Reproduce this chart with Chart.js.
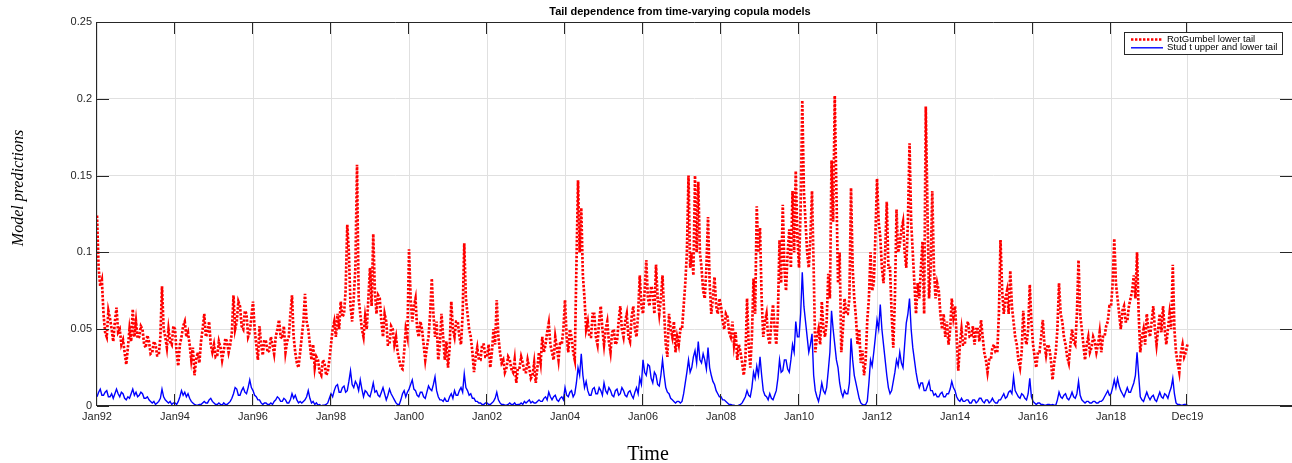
<!DOCTYPE html>
<html>
<head>
<meta charset="utf-8">
<title>Tail dependence from time-varying copula models</title>
<script src="https://cdn.jsdelivr.net/npm/chart.js@4.4.1/dist/chart.umd.min.js"></script>
<style>
  html, body { margin: 0; padding: 0; background: #fff; }
  #wrap { width: 1292px; height: 463px; }
</style>
</head>
<body>
<div id="wrap"><canvas id="chart" width="1292" height="463"></canvas></div>
<script>
// ═══════════════════════════════════════════════════════
// DATA  (half-monthly estimates, Jan 1992 .. Dec 2019)
// ═══════════════════════════════════════════════════════
const START_YEAR = 1992;
const PER_YEAR   = 24;
const X_MAX      = 2022.64;

const X_TICKS       = [1992, 1994, 1996, 1998, 2000, 2002, 2004, 2006, 2008, 2010, 2012, 2014, 2016, 2018, 2019.96];
const X_TICK_LABELS = ['Jan92','Jan94','Jan96','Jan98','Jan00','Jan02','Jan04','Jan06','Jan08','Jan10','Jan12','Jan14','Jan16','Jan18','Dec19'];
const Y_TICKS       = [0, 0.05, 0.1, 0.15, 0.2, 0.25];
const Y_TICK_LABELS = ['0', '0.05', '0.1', '0.15', '0.2', '0.25'];

// RotGumbel lower tail dependence
const ROT_GUMBEL = [
  0.124,0.09,0.078,0.082,0.06,0.048,0.045,0.062,0.057,0.05,0.042,0.055,0.064,0.048,0.05,0.04,0.043,0.035,0.027,0.038,0.05,0.042,0.063,0.045,       // 1992
  0.055,0.044,0.045,0.052,0.05,0.04,0.038,0.046,0.042,0.034,0.035,0.042,0.04,0.033,0.033,0.045,0.078,0.05,0.045,0.038,0.05,0.042,0.04,0.052,       // 1993
  0.05,0.035,0.026,0.04,0.045,0.052,0.055,0.045,0.048,0.04,0.03,0.038,0.02,0.03,0.035,0.028,0.042,0.05,0.06,0.045,0.048,0.055,0.04,0.035,          // 1994
  0.04,0.032,0.033,0.042,0.038,0.03,0.036,0.044,0.042,0.035,0.04,0.048,0.072,0.05,0.055,0.068,0.065,0.052,0.05,0.062,0.06,0.045,0.048,0.058,       // 1995
  0.068,0.05,0.04,0.03,0.052,0.04,0.033,0.043,0.042,0.035,0.036,0.045,0.04,0.034,0.045,0.05,0.056,0.045,0.044,0.052,0.035,0.042,0.045,0.06,       // 1996
  0.072,0.045,0.035,0.028,0.025,0.035,0.045,0.055,0.073,0.055,0.05,0.04,0.03,0.04,0.025,0.032,0.03,0.022,0.02,0.03,0.028,0.02,0.022,0.03,         // 1997
  0.04,0.05,0.055,0.045,0.06,0.05,0.068,0.058,0.06,0.075,0.118,0.1,0.065,0.055,0.07,0.09,0.157,0.07,0.06,0.05,0.045,0.058,0.05,0.07,              // 1998
  0.09,0.065,0.112,0.075,0.06,0.072,0.07,0.055,0.045,0.06,0.055,0.04,0.04,0.052,0.05,0.04,0.045,0.035,0.03,0.025,0.024,0.035,0.05,0.045,          // 1999
  0.102,0.07,0.055,0.065,0.07,0.05,0.045,0.055,0.05,0.04,0.03,0.038,0.045,0.06,0.083,0.06,0.045,0.055,0.03,0.04,0.06,0.045,0.03,0.042,            // 2000
  0.025,0.038,0.068,0.05,0.045,0.055,0.055,0.045,0.04,0.06,0.106,0.07,0.06,0.05,0.045,0.035,0.022,0.032,0.038,0.03,0.03,0.04,0.04,0.032,          // 2001
  0.032,0.04,0.025,0.035,0.05,0.04,0.069,0.045,0.035,0.028,0.03,0.022,0.025,0.032,0.03,0.024,0.022,0.03,0.015,0.025,0.025,0.032,0.028,0.022,      // 2002
  0.022,0.03,0.025,0.018,0.02,0.028,0.015,0.025,0.035,0.028,0.045,0.035,0.04,0.048,0.054,0.04,0.035,0.03,0.045,0.038,0.03,0.042,0.04,0.05,        // 2003
  0.069,0.045,0.035,0.05,0.045,0.035,0.03,0.09,0.147,0.1,0.129,0.085,0.07,0.05,0.055,0.045,0.045,0.06,0.06,0.045,0.04,0.055,0.065,0.05,           // 2004
  0.04,0.05,0.055,0.042,0.035,0.048,0.05,0.04,0.042,0.055,0.065,0.05,0.045,0.055,0.06,0.045,0.042,0.058,0.065,0.05,0.045,0.06,0.085,0.065,        // 2005
  0.06,0.075,0.095,0.07,0.065,0.078,0.075,0.06,0.092,0.07,0.06,0.07,0.085,0.06,0.04,0.032,0.06,0.05,0.045,0.055,0.035,0.045,0.04,0.05,            // 2006
  0.05,0.065,0.08,0.1,0.15,0.09,0.1,0.085,0.15,0.1,0.146,0.1,0.09,0.075,0.07,0.09,0.123,0.08,0.06,0.07,0.084,0.065,0.06,0.07,                     // 2007
  0.065,0.055,0.05,0.06,0.058,0.048,0.045,0.055,0.04,0.048,0.03,0.04,0.035,0.028,0.02,0.03,0.07,0.04,0.025,0.045,0.083,0.06,0.13,0.1,             // 2008
  0.116,0.07,0.045,0.055,0.06,0.045,0.04,0.055,0.066,0.05,0.04,0.06,0.108,0.08,0.131,0.09,0.075,0.1,0.115,0.09,0.14,0.1,0.153,0.11,               // 2009
  0.09,0.13,0.199,0.14,0.12,0.1,0.09,0.11,0.14,0.09,0.035,0.045,0.05,0.04,0.068,0.05,0.045,0.055,0.086,0.07,0.16,0.12,0.202,0.14,                 // 2010
  0.08,0.1,0.035,0.05,0.07,0.06,0.06,0.07,0.142,0.09,0.07,0.058,0.04,0.05,0.028,0.036,0.02,0.03,0.056,0.07,0.1,0.075,0.08,0.11,                   // 2011
  0.148,0.12,0.11,0.09,0.08,0.1,0.133,0.09,0.09,0.06,0.038,0.07,0.128,0.1,0.105,0.115,0.12,0.1,0.09,0.12,0.171,0.12,0.1,0.08,                     // 2012
  0.06,0.08,0.07,0.09,0.107,0.06,0.195,0.13,0.07,0.09,0.14,0.09,0.07,0.08,0.075,0.06,0.05,0.06,0.045,0.055,0.04,0.05,0.07,0.058,                  // 2013
  0.065,0.045,0.023,0.04,0.05,0.04,0.04,0.052,0.055,0.045,0.045,0.052,0.04,0.05,0.05,0.042,0.056,0.045,0.035,0.03,0.022,0.03,0.03,0.038,          // 2014
  0.04,0.035,0.035,0.06,0.108,0.075,0.06,0.07,0.075,0.06,0.088,0.065,0.055,0.045,0.04,0.03,0.025,0.035,0.062,0.045,0.04,0.05,0.079,0.055,         // 2015
  0.04,0.032,0.025,0.035,0.035,0.045,0.056,0.04,0.033,0.04,0.038,0.03,0.017,0.028,0.035,0.05,0.08,0.06,0.055,0.045,0.04,0.032,0.028,0.04,         // 2016
  0.05,0.042,0.04,0.06,0.095,0.06,0.05,0.04,0.03,0.04,0.045,0.035,0.038,0.045,0.042,0.035,0.04,0.048,0.035,0.045,0.045,0.052,0.055,0.065,         // 2017
  0.065,0.08,0.109,0.08,0.07,0.06,0.05,0.062,0.065,0.055,0.055,0.065,0.07,0.075,0.085,0.07,0.1,0.06,0.035,0.045,0.05,0.04,0.06,0.05,              // 2018
  0.045,0.055,0.065,0.05,0.04,0.05,0.06,0.048,0.065,0.05,0.04,0.05,0.06,0.05,0.092,0.05,0.035,0.028,0.022,0.035,0.04,0.032,0.035,0.04,            // 2019
];

// Student t upper and lower tail dependence
const STUD_T = [
  0.006,0.009,0.011,0.007,0.007,0.009,0.01,0.006,0.006,0.008,0.005,0.008,0.011,0.008,0.006,0.009,0.008,0.005,0.004,0.006,0.005,0.008,0.011,0.007,               // 1992
  0.009,0.006,0.007,0.009,0.008,0.005,0.005,0.006,0.004,0.003,0.002,0.003,0.001,0.002,0.003,0.005,0.011,0.006,0.004,0.003,0.002,0.003,0.001,0.002,               // 1993
  0.002,0.001,0.003,0.006,0.01,0.007,0.009,0.006,0.008,0.005,0.003,0.002,0.001,0.0005,0.0005,0.001,0.001,0.002,0.003,0.002,0.002,0.004,0.005,0.003,             // 1994
  0.002,0.001,0.001,0.002,0.001,0.0005,0.002,0.001,0.001,0.002,0.003,0.005,0.008,0.012,0.011,0.007,0.007,0.01,0.012,0.009,0.008,0.012,0.017,0.012,              // 1995
  0.01,0.007,0.006,0.004,0.004,0.002,0.001,0.002,0.002,0.001,0.001,0.002,0.001,0.003,0.004,0.006,0.005,0.003,0.003,0.005,0.004,0.002,0.002,0.004,               // 1996
  0.008,0.005,0.007,0.004,0.002,0.003,0.002,0.003,0.004,0.006,0.01,0.005,0.002,0.003,0.001,0.002,0.0005,0.001,0,0.0005,0.0005,0.001,0.002,0.005,                // 1997
  0.008,0.006,0.01,0.013,0.014,0.009,0.009,0.012,0.013,0.009,0.01,0.016,0.023,0.014,0.012,0.016,0.014,0.01,0.017,0.011,0.006,0.01,0.009,0.007,                  // 1998
  0.006,0.01,0.015,0.009,0.01,0.007,0.006,0.009,0.012,0.008,0.004,0.007,0.011,0.008,0.006,0.004,0.002,0.001,0.001,0.004,0.008,0.01,0.006,0.009,                 // 1999
  0.011,0.014,0.017,0.011,0.01,0.007,0.006,0.009,0.009,0.006,0.005,0.009,0.013,0.011,0.01,0.014,0.019,0.01,0.006,0.004,0.004,0.003,0.005,0.003,                 // 2000
  0.003,0.006,0.008,0.005,0.01,0.007,0.007,0.01,0.012,0.009,0.021,0.012,0.01,0.007,0.008,0.005,0.005,0.003,0.003,0.002,0.002,0.001,0.001,0.002,                 // 2001
  0.002,0.001,0.001,0.002,0.003,0.005,0.009,0.004,0.002,0.001,0.001,0.0005,0.0005,0.001,0.002,0.001,0.001,0.002,0.0005,0.001,0.001,0.002,0.001,0.003,           // 2002
  0.002,0.003,0.004,0.002,0.003,0.002,0.002,0.003,0.004,0.003,0.003,0.005,0.006,0.004,0.009,0.006,0.004,0.006,0.007,0.004,0.003,0.005,0.006,0.004,               // 2003
  0.012,0.007,0.006,0.009,0.01,0.006,0.008,0.015,0.025,0.02,0.034,0.02,0.012,0.016,0.01,0.007,0.007,0.011,0.012,0.008,0.008,0.012,0.01,0.007,                   // 2004
  0.015,0.01,0.008,0.012,0.01,0.007,0.006,0.01,0.011,0.007,0.008,0.012,0.01,0.007,0.006,0.009,0.01,0.007,0.005,0.009,0.012,0.008,0.018,0.014,                   // 2005
  0.03,0.022,0.02,0.027,0.026,0.018,0.015,0.022,0.02,0.014,0.013,0.02,0.03,0.02,0.012,0.009,0.008,0.005,0.004,0.003,0.002,0.003,0.003,0.002,                    // 2006
  0.003,0.008,0.015,0.022,0.03,0.022,0.025,0.032,0.036,0.028,0.042,0.03,0.028,0.034,0.03,0.024,0.038,0.025,0.02,0.016,0.014,0.01,0.008,0.006,                   // 2007
  0.006,0.004,0.004,0.003,0.002,0.001,0.001,0.0005,0.0005,0,0,0.0005,0.001,0.002,0.004,0.006,0.01,0.007,0.006,0.012,0.022,0.018,0.026,0.02,                     // 2008
  0.032,0.02,0.01,0.007,0.006,0.004,0.008,0.005,0.004,0.007,0.01,0.018,0.03,0.022,0.023,0.03,0.03,0.024,0.022,0.03,0.04,0.035,0.055,0.045,                      // 2009
  0.045,0.06,0.087,0.065,0.055,0.045,0.035,0.04,0.047,0.02,0.01,0.006,0.003,0.008,0.015,0.01,0.008,0.012,0.023,0.035,0.062,0.05,0.04,0.03,                      // 2010
  0.025,0.015,0.009,0.006,0.01,0.008,0.008,0.015,0.044,0.03,0.02,0.015,0.01,0.005,0.002,0.001,0.0005,0.001,0.003,0.015,0.03,0.026,0.035,0.045,                  // 2011
  0.056,0.05,0.066,0.05,0.04,0.03,0.02,0.012,0.008,0.01,0.016,0.022,0.03,0.026,0.035,0.028,0.025,0.04,0.054,0.06,0.07,0.05,0.038,0.03,                          // 2012
  0.022,0.016,0.012,0.015,0.015,0.01,0.01,0.013,0.016,0.01,0.01,0.007,0.008,0.006,0.006,0.008,0.009,0.006,0.006,0.008,0.008,0.011,0.016,0.012,                  // 2013
  0.01,0.006,0.004,0.003,0.005,0.003,0.003,0.004,0.004,0.002,0.002,0.004,0.004,0.002,0.003,0.005,0.005,0.003,0.002,0.004,0.004,0.002,0.003,0.005,               // 2014
  0.003,0.002,0.002,0.004,0.004,0.006,0.008,0.005,0.006,0.009,0.01,0.008,0.019,0.01,0.008,0.006,0.005,0.008,0.007,0.005,0.004,0.008,0.018,0.006,                // 2015
  0.003,0.002,0.001,0.002,0.002,0.001,0.001,0.0005,0.0005,0.001,0.001,0.0005,0.001,0.0005,0.0005,0.004,0.009,0.006,0.005,0.007,0.008,0.005,0.004,0.006,        // 2016
  0.009,0.006,0.005,0.008,0.016,0.007,0.004,0.003,0.002,0.003,0.003,0.002,0.002,0.003,0.003,0.002,0.002,0.003,0.003,0.004,0.006,0.008,0.01,0.007,               // 2017
  0.008,0.012,0.017,0.012,0.018,0.013,0.01,0.008,0.006,0.009,0.012,0.009,0.009,0.012,0.015,0.02,0.035,0.02,0.006,0.004,0.003,0.006,0.009,0.006,                 // 2018
  0.004,0.006,0.007,0.004,0.003,0.006,0.009,0.006,0.005,0.008,0.007,0.005,0.009,0.012,0.018,0.008,0.002,0.001,0.001,0.0005,0.0005,0.001,0.001,0.0005,          // 2019
];

const SANS  = '"Liberation Sans", Arial, Helvetica, sans-serif';
const SERIF = '"Liberation Serif", "Times New Roman", Times, serif';
const AXIS_COLOR = '#262626';

// half-monthly series -> {x: decimal year, y}
const toPoints = arr => arr.map((v, i) => ({ x: START_YEAR + i / PER_YEAR, y: v }));

// ═══════════════════════════════════════════════════════
// PLUGINS
// ═══════════════════════════════════════════════════════
// box round the axes plus inward tick marks on all four sides
const axesBox = {
  id: 'axesBox',
  afterDatasetsDraw(chart) {
    const { ctx, chartArea: a, scales: { x, y } } = chart;
    const TL = 12;
    ctx.save();
    ctx.strokeStyle = AXIS_COLOR;
    ctx.lineWidth = 1;
    ctx.beginPath();
    ctx.rect(a.left - 0.5, a.top + 0.5, a.right - a.left + 1, a.bottom - a.top - 1);
    X_TICKS.forEach(v => {
      const px = Math.round(x.getPixelForValue(v)) - 0.5;
      ctx.moveTo(px, a.bottom); ctx.lineTo(px, a.bottom - TL);
      ctx.moveTo(px, a.top);    ctx.lineTo(px, a.top + TL);
    });
    Y_TICKS.forEach(v => {
      const py = Math.round(y.getPixelForValue(v)) + 0.5;
      ctx.moveTo(a.left, py);  ctx.lineTo(a.left + TL, py);
      ctx.moveTo(a.right, py); ctx.lineTo(a.right - TL, py);
    });
    ctx.stroke();
    ctx.restore();
  },
};

// title and axis labels
const labels = {
  id: 'labels',
  afterDraw(chart) {
    const { ctx } = chart;
    ctx.save();
    ctx.fillStyle = '#000';
    ctx.textAlign = 'center';

    ctx.font = 'bold 11px ' + SANS;
    ctx.textBaseline = 'middle';
    ctx.fillText('Tail dependence from time-varying copula models', 680, 12);

    ctx.font = '20px ' + SERIF;
    ctx.textBaseline = 'alphabetic';
    ctx.fillText('Time', 648, 460);

    ctx.translate(23, 188);
    ctx.rotate(-Math.PI / 2);
    ctx.font = 'italic 16px ' + SERIF;
    ctx.fillText('Model predictions', 0, 0);
    ctx.restore();
  },
};

// legend box in the upper right corner
const legendBox = {
  id: 'legendBox',
  afterDraw(chart) {
    const { ctx } = chart;
    const box = { x: 1124.5, y: 32.5, w: 158, h: 22 };
    const rows = [39.5, 47.8];
    ctx.save();
    ctx.fillStyle = '#fff';
    ctx.fillRect(box.x, box.y, box.w, box.h);
    ctx.strokeStyle = AXIS_COLOR;
    ctx.lineWidth = 1;
    ctx.strokeRect(box.x, box.y, box.w, box.h);

    ctx.font = '9.5px ' + SANS;
    ctx.textBaseline = 'middle';
    ctx.textAlign = 'left';
    chart.data.datasets.forEach((ds, i) => {
      ctx.beginPath();
      ctx.strokeStyle = ds.borderColor;
      ctx.lineWidth = ds.borderWidth;
      ctx.setLineDash(ds.borderDash || []);
      ctx.moveTo(1131, rows[i]);
      ctx.lineTo(1163, rows[i]);
      ctx.stroke();
      ctx.setLineDash([]);
      ctx.fillStyle = '#000';
      ctx.fillText(ds.label, 1167, rows[i]);
    });
    ctx.restore();
  },
};

// ═══════════════════════════════════════════════════════
// CHART
// ═══════════════════════════════════════════════════════
new Chart(document.getElementById('chart'), {
  type: 'line',
  data: {
    datasets: [
      {
        label: 'RotGumbel lower tail',
        data: toPoints(ROT_GUMBEL),
        borderColor: '#ff0000',
        borderWidth: 2.7,
        borderDash: [2.4, 1.6],
        pointRadius: 0,
        tension: 0,
        order: 2,
      },
      {
        label: 'Stud t upper and lower tail',
        data: toPoints(STUD_T),
        borderColor: '#0000ff',
        borderWidth: 1.4,
        pointRadius: 0,
        tension: 0,
        order: 1,
      },
    ],
  },
  options: {
    responsive: false,
    animation: false,
    devicePixelRatio: 1,
    layout: { padding: { left: 0, right: 0, top: 22, bottom: 0 } },
    plugins: {
      legend:  { display: false },
      tooltip: { enabled: false },
    },
    scales: {
      x: {
        type: 'linear',
        min: START_YEAR,
        max: X_MAX,
        afterBuildTicks: s => { s.ticks = X_TICKS.map(v => ({ value: v })); },
        afterFit: s => { s.height = 57; },
        ticks: {
          callback: (v, i) => X_TICK_LABELS[i],
          font: { family: SANS, size: 11 },
          color: AXIS_COLOR,
          padding: 4,
          maxRotation: 0,
          autoSkip: false,
        },
        grid: { color: '#e0e0e0', lineWidth: 1, drawTicks: false },
        border: { display: false },
      },
      y: {
        min: 0,
        max: 0.25,
        afterBuildTicks: s => { s.ticks = Y_TICKS.map(v => ({ value: v })); },
        afterFit: s => { s.width = 97; },
        ticks: {
          callback: (v, i) => Y_TICK_LABELS[i],
          font: { family: SANS, size: 11 },
          color: AXIS_COLOR,
          padding: 5,
        },
        grid: { color: '#e0e0e0', lineWidth: 1, drawTicks: false },
        border: { display: false },
      },
    },
  },
  plugins: [axesBox, labels, legendBox],
});
</script>
</body>
</html>
